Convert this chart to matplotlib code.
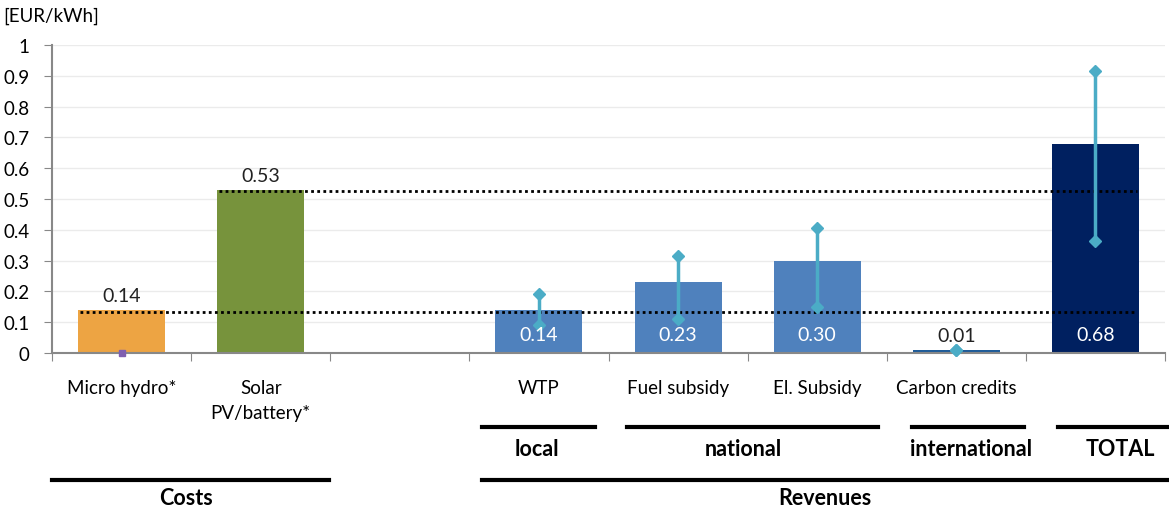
import matplotlib.pyplot as plt
from matplotlib.lines import Line2D

plt.rcParams['font.family'] = ['Lato', 'DejaVu Sans']

# data
categories = ['Micro hydro*', 'Solar\nPV/battery*', '', 'WTP', 'Fuel subsidy', 'El. Subsidy', 'Carbon credits', '']
values = [0.14, 0.53, None, 0.14, 0.23, 0.30, 0.01, 0.68]
labels = ['0.14', '0.53', '', '0.14', '0.23', '0.30', '0.01', '0.68']
err_low = [None, None, None, 0.09, 0.11, 0.15, 0.01, 0.365]
err_high = [None, None, None, 0.19, 0.315, 0.405, 0.01, 0.915]
colors = ['#EDA443', '#77933C', 'white', '#4F81BD', '#4F81BD', '#4F81BD', '#1F5C99', '#002060']
label_inside = [False, False, False, True, True, True, False, True]
ref_lines = [0.133, 0.526]
y_ticks = [0, 0.1, 0.2, 0.3, 0.4, 0.5, 0.6, 0.7, 0.8, 0.9, 1]
y_tick_labels = ['0', '0.1', '0.2', '0.3', '0.4', '0.5', '0.6', '0.7', '0.8', '0.9', '1']

W, H = 1169, 510
fig = plt.figure(figsize=(W / 100, H / 100), dpi=100)
ax = fig.add_axes([52 / W, 1 - 354 / H, (1165 - 52) / W, (354 - 46) / H])

x = list(range(len(categories)))
for i, v in enumerate(values):
    if v is None:
        continue
    ax.bar(i, v, width=0.625, color=colors[i], zorder=2)

# purple mark at zero under micro hydro
ax.plot([0], [0], marker='s', ms=4, color='#7F5FB0', zorder=3, clip_on=False)

# dotted reference lines (cost levels carried across the revenue bars)
ax.plot([-0.3, 7.3], [ref_lines[0]] * 2, color='black', ls=(0, (1, 1.2)), lw=2, zorder=4)
ax.plot([0.7, 7.3], [ref_lines[1]] * 2, color='black', ls=(0, (1, 1.2)), lw=2, zorder=4)

# ranges
for i in x:
    lo, hi = err_low[i], err_high[i]
    if lo is None:
        continue
    ax.plot([i, i], [lo, hi], color='#4BACC6', lw=2.5, zorder=5)
    ax.plot([i, i], [lo, hi], ls='none', marker='D', ms=6, color='#4BACC6', zorder=5, clip_on=False)

# data labels
for i, v in enumerate(values):
    if v is None:
        continue
    if label_inside[i]:
        ax.text(i, 0.06, labels[i], ha='center', va='center', color='white', fontsize=14, zorder=6)
    else:
        ax.text(i, v + 0.02, labels[i], ha='center', va='bottom', color='#222222', fontsize=14, zorder=6)

ax.set_xlim(-0.5, 7.5)
ax.set_ylim(0, 1)
ax.set_yticks(y_ticks)
ax.set_yticklabels(y_tick_labels, fontsize=13.5)
ax.set_xticks([i + 0.5 for i in range(-1, 8)], minor=False)
ax.set_xticklabels([])
ax.set_xticks(x, minor=True)
ax.set_xticklabels(categories, minor=True, fontsize=13.5, linespacing=1.55)
ax.tick_params(axis='x', which='minor', length=0, pad=19)
ax.tick_params(axis='x', which='major', length=6, color='#888888', direction='out')
ax.tick_params(axis='y', length=6, color='#888888', pad=10)
ax.grid(axis='y', color='#EBEBEB', lw=1, zorder=0)
ax.set_axisbelow(True)
for s in ['top', 'right']:
    ax.spines[s].set_visible(False)
ax.spines['left'].set_color('#888888')
ax.spines['bottom'].set_color('#888888')
ax.spines['left'].set_linewidth(1.5)
ax.spines['bottom'].set_linewidth(1.5)

fig.text(3 / W, 1 - 16 / H, '[EUR/kWh]', fontsize=13.5, va='center', ha='left')

# group annotations
def hline(x0, x1, ypix):
    fig.add_artist(Line2D([x0 / W, x1 / W], [1 - ypix / H] * 2, color='black', lw=3))

def label(xc, ypix, s):
    fig.text(xc / W, 1 - ypix / H, s, ha='center', va='center', fontsize=15.5, fontweight='bold')

hline(482, 595, 428)
hline(627, 878, 428)
hline(912, 1024, 428)
hline(1058, 1169, 428)
label(537, 450, 'local')
label(743, 450, 'national')
label(971, 450, 'international')
label(1120, 450, 'TOTAL')
hline(52, 329, 481)
hline(482, 1169, 481)
label(186, 499, 'Costs')
label(825, 499, 'Revenues')

fig.savefig('out.png', dpi=100)
